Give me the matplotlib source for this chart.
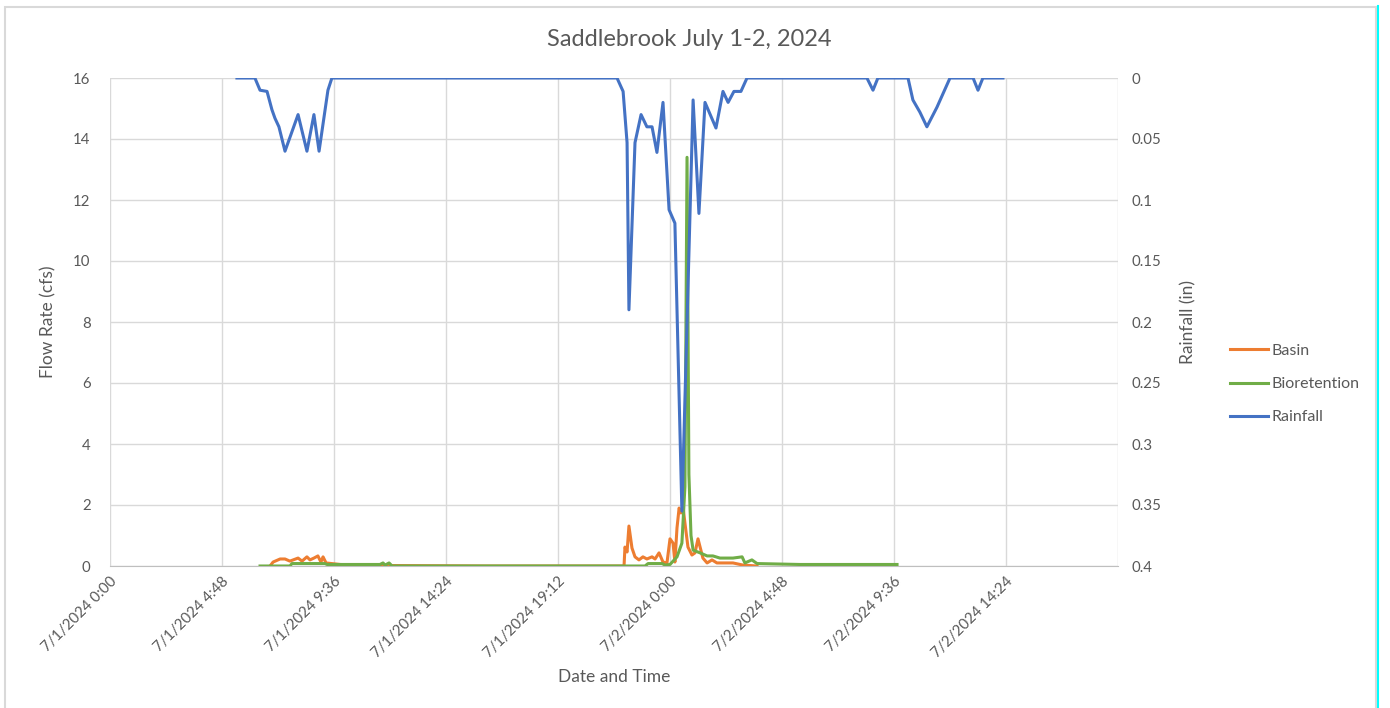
import matplotlib
matplotlib.use("Agg")
import matplotlib.pyplot as plt
from matplotlib.lines import Line2D
from matplotlib.patches import Rectangle

plt.rcParams['font.family'] = ['Lato', 'DejaVu Sans']

# Hours since 7/1/2024 0:00
basin_t = [6.86, 6.99, 7.29, 7.5, 7.71, 8.06, 8.23, 8.44, 8.57, 8.74, 8.91, 9.04, 9.13, 9.26,
           9.86, 10.71, 16.0, 22.03, 22.07, 22.16, 22.24, 22.37, 22.5, 22.67, 22.84, 23.01,
           23.23, 23.36, 23.53, 23.7, 23.87, 24.0, 24.13, 24.21, 24.3, 24.39, 24.47, 24.56,
           24.64, 24.77, 24.94, 25.07, 25.2, 25.29, 25.41, 25.59, 25.8, 26.01, 26.36, 26.7,
           27.13, 27.73]
basin_q = [0.0, 0.13, 0.23, 0.23, 0.16, 0.26, 0.16, 0.3, 0.2, 0.26, 0.33, 0.13, 0.3, 0.1,
           0.05, 0.02, 0.0, 0.0, 0.62, 0.46, 1.31, 0.59, 0.3, 0.2, 0.3, 0.23,
           0.3, 0.23, 0.43, 0.13, 0.1, 0.89, 0.75, 0.13, 1.25, 1.9, 1.74, 1.93,
           1.41, 0.62, 0.36, 0.43, 0.89, 0.62, 0.26, 0.1, 0.2, 0.1, 0.1, 0.1,
           0.03, 0.0]

bio_t = [6.43, 7.71, 7.8, 9.21, 9.3, 11.57, 11.7, 11.79, 11.96, 12.09, 22.93, 23.06, 23.66,
         23.79, 24.0, 24.3, 24.51, 24.64, 24.73, 24.81, 24.9, 24.99, 25.29, 25.59, 25.84,
         26.14, 26.7, 27.09, 27.21, 27.51, 27.73, 29.57, 31.71, 33.73]
bio_q = [0.0, 0.0, 0.08, 0.08, 0.05, 0.05, 0.1, 0.03, 0.1, 0.0, 0.0, 0.08, 0.08,
         0.03, 0.05, 0.3, 0.75, 2.6, 13.4, 3.0, 1.0, 0.52, 0.43, 0.33, 0.33,
         0.26, 0.26, 0.3, 0.1, 0.2, 0.08, 0.05, 0.05, 0.05]

rain_t = [5.44, 6.21, 6.43, 6.73, 6.94, 7.07, 7.24, 7.5, 8.06, 8.44, 8.74, 8.96, 9.34, 9.51,
          21.73, 21.99, 22.16, 22.24, 22.5, 22.76, 23.01, 23.23, 23.44, 23.7, 23.96, 24.21,
          24.51, 24.99, 25.24, 25.5, 25.97, 26.27, 26.49, 26.74, 27.04, 27.3,
          32.44, 32.7, 32.91, 34.2, 34.41, 34.71, 35.01, 35.44, 36.0, 36.99, 37.2, 37.41, 38.27]
rain_in = [0.0, 0.0, 0.01, 0.011, 0.026, 0.033, 0.04, 0.06, 0.03, 0.06, 0.03, 0.06, 0.01, 0.0,
           0.0, 0.011, 0.053, 0.19, 0.053, 0.03, 0.04, 0.04, 0.061, 0.02, 0.108, 0.119,
           0.355, 0.018, 0.111, 0.02, 0.041, 0.011, 0.02, 0.011, 0.011, 0.0,
           0.0, 0.01, 0.0, 0.0, 0.018, 0.028, 0.04, 0.024, 0.0, 0.0, 0.01, 0.0, 0.0]

x_ticks = [0, 4.8, 9.6, 14.4, 19.2, 24.0, 28.8, 33.6, 38.4, 43.2]
x_labels = ['7/1/2024 0:00', '7/1/2024 4:48', '7/1/2024 9:36', '7/1/2024 14:24',
            '7/1/2024 19:12', '7/2/2024 0:00', '7/2/2024 4:48', '7/2/2024 9:36',
            '7/2/2024 14:24', '']
flow_ticks = [0, 2, 4, 6, 8, 10, 12, 14, 16]
rain_ticks = [0, 0.05, 0.1, 0.15, 0.2, 0.25, 0.3, 0.35, 0.4]
rain_labels = ['0', '0.05', '0.1', '0.15', '0.2', '0.25', '0.3', '0.35', '0.4']

W, H = 1390, 708
fig = plt.figure(figsize=(W / 100, H / 100), dpi=100)
ax = fig.add_axes([110 / W, 1 - 566 / H, 1008 / W, 488 / H])
ax2 = ax.twinx()

c_basin, c_bio, c_rain = '#ED7D31', '#70AD47', '#4472C4'
txt = '#595959'
grid = '#D9D9D9'

ax.plot(basin_t, basin_q, color=c_basin, lw=2.2, solid_joinstyle='round', zorder=3)
ax.plot(bio_t, bio_q, color=c_bio, lw=2.2, solid_joinstyle='round', zorder=4)
ax2.plot(rain_t, rain_in, color=c_rain, lw=2.2, solid_joinstyle='round')

ax.set_xlim(0, 43.2)
ax.set_ylim(0, 16)
ax2.set_ylim(0.4, 0)
ax.set_xticks(x_ticks)
ax.set_xticklabels(x_labels, rotation=45, ha='right', rotation_mode='anchor',
                   color=txt, fontsize=10.8)
ax.set_yticks(flow_ticks)
ax.set_yticklabels([str(v) for v in flow_ticks], color=txt, fontsize=10.8)
ax2.set_yticks(rain_ticks)
ax2.set_yticklabels(rain_labels, color=txt, fontsize=10.8)

ax.grid(True, color=grid, lw=1.0)
ax.set_axisbelow(True)
for a in (ax, ax2):
    for s in a.spines.values():
        s.set_visible(False)
    a.tick_params(length=0)
ax.spines['bottom'].set_visible(True)
ax.spines['bottom'].set_color('#BFBFBF')
ax.tick_params(axis='x', pad=6)
ax.tick_params(axis='y', pad=14)
ax2.tick_params(axis='y', pad=10)

ax.set_xlabel('Date and Time', color=txt, fontsize=12.5, labelpad=6)
ax.set_ylabel('Flow Rate (cfs)', color=txt, fontsize=12.5, labelpad=12)
ax2.set_ylabel('Rainfall (in)', color=txt, fontsize=12.5, labelpad=13)
fig.text(689 / W, 1 - 40 / H, 'Saddlebrook July 1-2, 2024', ha='center', va='center',
         color=txt, fontsize=17)

handles = [Line2D([], [], color=c_basin, lw=2.2), Line2D([], [], color=c_bio, lw=2.2),
           Line2D([], [], color=c_rain, lw=2.2)]
leg = fig.legend(handles, ['Basin', 'Bioretention', 'Rainfall'],
                 loc='center left', bbox_to_anchor=(1216 / W, 1 - 384 / H),
                 frameon=False, fontsize=11.5, handlelength=2.35, handletextpad=0.25,
                 labelspacing=1.2)
for t in leg.get_texts():
    t.set_color(txt)

fig.add_artist(Rectangle((5 / W, -0.1), 1371 / W, 1.1 - 7 / H, transform=fig.transFigure,
                         fill=False, edgecolor='#D9D9D9', lw=1.5))
fig.add_artist(Line2D([1378 / W, 1378 / W], [0, 1 - 6 / H], transform=fig.transFigure,
                      color='#00FFFF', lw=1.5))

fig.savefig('out.png', dpi=100)
